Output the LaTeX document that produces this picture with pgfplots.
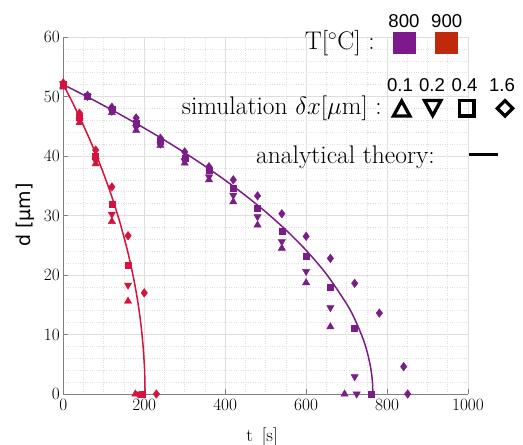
\documentclass[border=0pt]{standalone}
\usepackage{fontspec}
\usepackage{pgfplots}
\pgfplotsset{compat=1.18}
\newfontfamily\arialf{Liberation Sans}
\newfontfamily\dejavu{DejaVu Sans}
\definecolor{pur}{RGB}{122,30,135}
\definecolor{rd}{RGB}{212,20,60}
\definecolor{legpur}{RGB}{125,25,140}
\definecolor{legred}{RGB}{192,42,12}
\begin{document}
\begin{tikzpicture}
\path[use as bounding box] (-63.3pt,-51pt) rectangle (459.7pt,394pt);
\begin{axis}[
  at={(0pt,0pt)}, anchor=south west,
  scale only axis, width=404.7pt, height=357pt,
  xmin=0, xmax=1000, ymin=0, ymax=60,
  xtick={0,200,...,1000}, ytick={0,10,...,60},
  minor x tick num=3, minor y tick num=4,
  /pgf/number format/1000 sep={},
  grid=both,
  major grid style={color=black!13, line width=0.6pt},
  minor grid style={color=black!12, dotted, line width=0.6pt},
  axis x line*=bottom, axis y line*=left,
  axis line style={color=black!50, line width=0.6pt},
  tick align=inside, major tick length=5pt, minor tick length=0pt,
  tick style={color=black!50, line width=0.6pt},
  tick label style={font=\fontsize{18}{20}\selectfont},
  xticklabel style={yshift=-2pt},
  xlabel={\fontsize{18.5}{20}\selectfont t\hspace{9pt}[s]},
  ylabel={\dejavu\fontsize{19}{21}\selectfont d [µm]},
  xlabel style={at={(axis description cs:0.491,0)}, anchor=center, yshift=-43pt},
  ylabel style={at={(axis description cs:0,0.501)}, anchor=center, yshift=38.3pt},
  clip=false,
]
% analytical theory
\addplot[pur, line width=1.5pt, smooth] coordinates {
(0,52) (50,50.27) (100,48.48) (150,46.62) (200,44.69) (250,42.67) (300,40.54) (350,38.30) (400,35.92) (450,33.37) (500,30.61) (550,27.57) (600,24.15) (650,20.16) (700,15.16) (720,12.61) (740,9.40) (750,7.28) (758,4.97) (762,3.26) (764,1.88) (765,0)};
\addplot[rd, line width=1.5pt, smooth] coordinates {
(0,52) (20,49.36) (40,46.57) (60,43.60) (80,40.41) (100,36.95) (120,33.13) (140,28.81) (160,23.71) (175,19.01) (185,15.09) (192,11.57) (197,8.18) (200,5.17) (201,3.66) (201.7,2.0) (202,0)};
% 800 C simulations
\addplot[only marks, pur, mark=triangle*, mark size=4.2pt] coordinates {
(0,51.8) (60,49.8) (120,47.3) (180,44.3) (240,41.8) (300,38.8) (360,36) (420,32.3) (480,28.4) (540,24.5) (600,18.7) (660,11.3) (695,0)};
\addplot[only marks, pur, mark=triangle*, mark size=4.2pt, mark options={rotate=180}] coordinates {
(0,52) (60,50) (120,47.5) (180,44.8) (240,42) (300,39.2) (360,36.5) (420,33.4) (480,29.8) (540,25.6) (600,20.6) (660,14.5) (720,2.9) (725,0)};
\addplot[only marks, pur, mark=square*, mark size=3pt] coordinates {
(0,52) (60,50) (120,47.8) (180,45.5) (240,42.5) (300,39.7) (360,37.6) (420,34.6) (480,31.2) (540,27.3) (600,23.2) (660,17.9) (720,11.1) (760,0)};
\addplot[only marks, pur, mark=diamond*, mark size=4.3pt] coordinates {
(0,52) (60,50.2) (120,48.2) (180,46.4) (240,43) (300,40.7) (360,38.2) (420,36) (480,33.3) (540,30.3) (600,26.5) (660,22.8) (720,18.6) (781,13.6) (841,4.6) (851,0)};
% 900 C simulations
\addplot[only marks, rd, mark=triangle*, mark size=4.2pt] coordinates {
(0,51.6) (40,45.6) (80,38.7) (120,29) (160,15.6) (178,0)};
\addplot[only marks, rd, mark=triangle*, mark size=4.2pt, mark options={rotate=180}] coordinates {
(0,52.2) (40,46) (80,39.2) (120,30.2) (160,18.3) (185,0)};
\addplot[only marks, rd, mark=square*, mark size=3pt] coordinates {
(0,52) (40,46.6) (80,39.9) (120,31.9) (160,21.6) (195,0)};
\addplot[only marks, rd, mark=diamond*, mark size=4.3pt] coordinates {
(0,52.3) (40,47.2) (80,41) (120,34.8) (160,26.6) (200,17) (230,0)};
\end{axis}
% legend (pixel coordinates of the reference)
\begin{scope}[x=1pt, y=-1pt, shift={(-63.3pt,394pt)}]
  \node[anchor=east, inner sep=0pt, font=\fontsize{25.5}{27}\selectfont] at (375,43) {T[$^\circ$C] :};
  \node[inner sep=0pt, font=\arialf\fontsize{18.6}{20}\selectfont] at (404,21) {800};
  \node[inner sep=0pt, font=\arialf\fontsize{18.6}{20}\selectfont] at (446.7,21) {900};
  \fill[legpur] (392.7,31.7) rectangle (416,54.3);
  \fill[legred] (435,31.7) rectangle (458.3,54.3);
  \node[anchor=east, inner sep=0pt, font=\fontsize{25.5}{27}\selectfont] at (382,108) {simulation $\delta x[\mu\mathrm{m}]$ :};
  \node[inner sep=0pt, font=\arialf\fontsize{18.6}{20}\selectfont] at (400,85) {0.1};
  \node[inner sep=0pt, font=\arialf\fontsize{18.6}{20}\selectfont] at (432,85) {0.2};
  \node[inner sep=0pt, font=\arialf\fontsize{18.6}{20}\selectfont] at (464.5,85) {0.4};
  \node[inner sep=0pt, font=\arialf\fontsize{18.6}{20}\selectfont] at (502,85) {1.6};
  \draw[black, line width=3.3pt, line join=miter] (393.5,116) -- (409.9,116) -- (401.7,101) -- cycle;
  \draw[black, line width=3.3pt, line join=miter] (424.5,100.5) -- (440.9,100.5) -- (432.7,115.5) -- cycle;
  \draw[black, line width=3.3pt] (459.3,100.6) rectangle (474.1,116);
  \draw[black, line width=3.3pt, line join=miter] (497.3,108.3) -- (505,100.6) -- (512.7,108.3) -- (505,116) -- cycle;
  \node[anchor=east, inner sep=0pt, font=\fontsize{25.5}{27}\selectfont] at (435,157) {analytical theory:};
  \draw[black, line width=3.2pt] (469,154.3) -- (498,154.3);
\end{scope}
\end{tikzpicture}
\end{document}
